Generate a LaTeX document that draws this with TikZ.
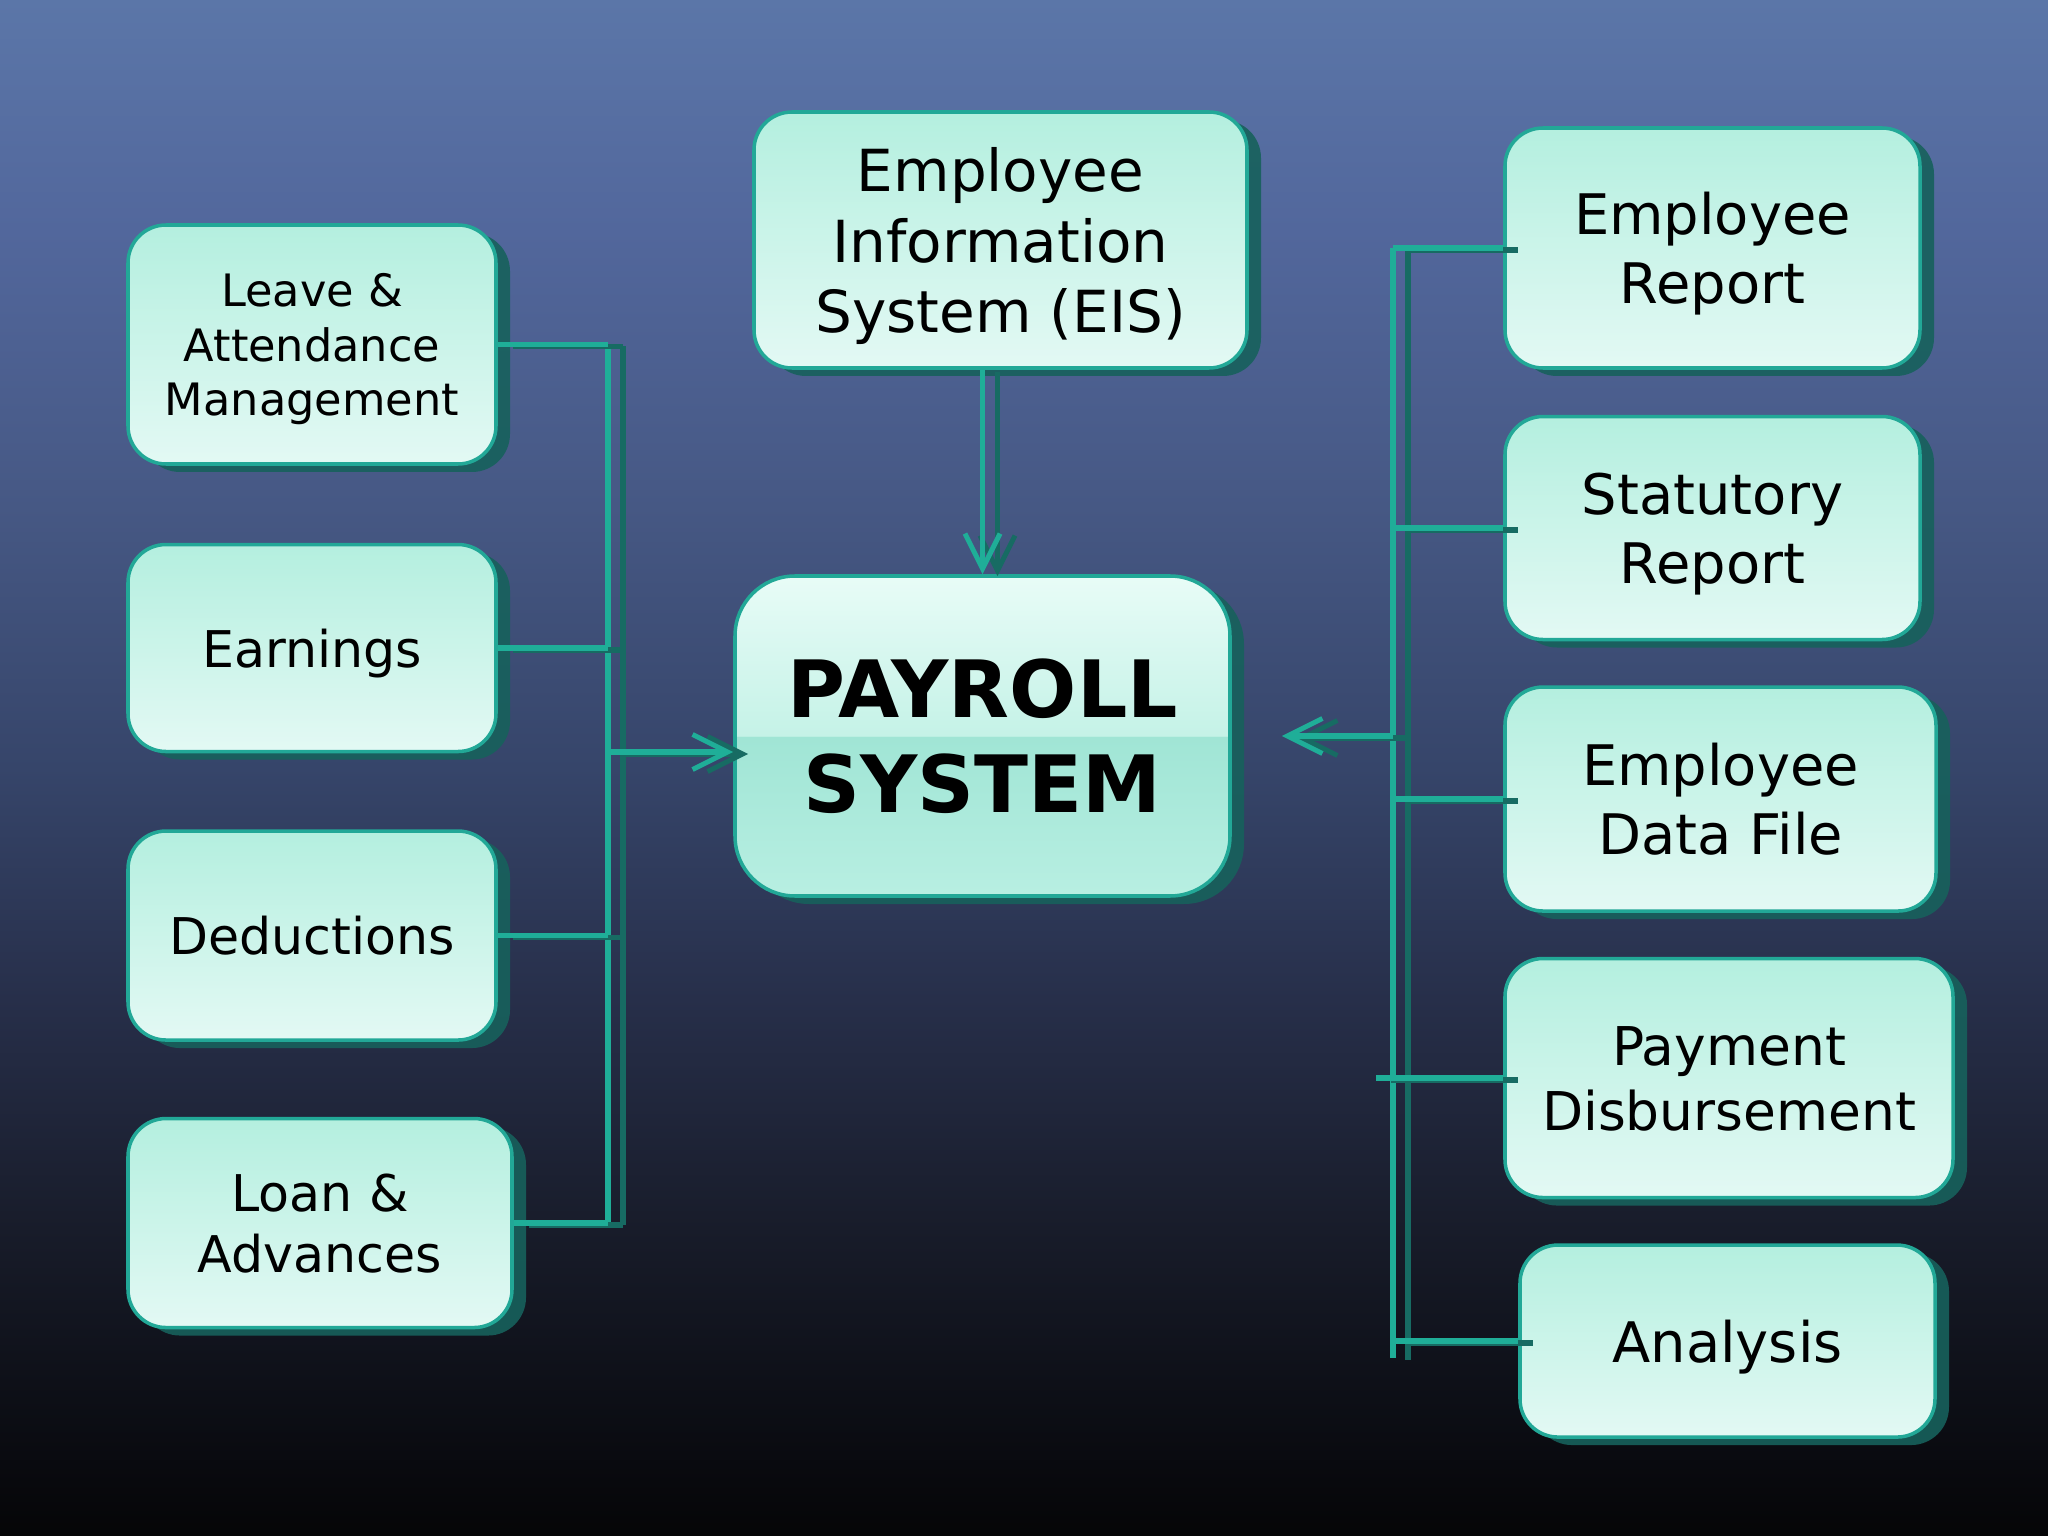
\documentclass[tikz,border=0pt]{standalone}
\usepackage{fontspec}
\setmainfont{DejaVu Sans}
\usetikzlibrary{arrows.meta,positioning,shadows}
\definecolor{BgTop}{HTML}{5B76A8}
\definecolor{BgA}{HTML}{52679C}
\definecolor{BgB}{HTML}{465884}
\definecolor{BgC}{HTML}{36456A}
\definecolor{BgD}{HTML}{272F4A}
\definecolor{BgE}{HTML}{181C2A}
\definecolor{BgF}{HTML}{0E1018}
\definecolor{BgBottom}{HTML}{050507}
\definecolor{BoxEdge}{HTML}{22A897}
\definecolor{BoxTop}{HTML}{B4EFDF}
\definecolor{BoxBottom}{HTML}{E3F9F4}
\definecolor{BoxShadow}{HTML}{17615C}
\definecolor{CoreTop}{HTML}{E8FCF7}
\definecolor{CoreMid}{HTML}{C5F2E7}
\definecolor{CoreLow}{HTML}{A0E5D5}
\definecolor{CoreBottom}{HTML}{B8EFE2}
\definecolor{LinkTeal}{HTML}{1FAE98}
\definecolor{LinkShadow}{HTML}{176B63}
\pgfdeclareverticalshading{bgfade}{100bp}{color(0bp)=(BgBottom); color(25bp)=(BgBottom);
  color(30bp)=(BgF); color(35bp)=(BgE); color(42.5bp)=(BgD); color(50bp)=(BgC);
  color(58.5bp)=(BgB); color(67.5bp)=(BgA); color(75bp)=(BgTop); color(100bp)=(BgTop)}
\pgfdeclareverticalshading{coregloss}{100bp}{color(0bp)=(CoreBottom); color(25bp)=(CoreBottom);
  color(49.9bp)=(CoreLow); color(50bp)=(CoreMid); color(75bp)=(CoreTop); color(100bp)=(CoreTop)}

\begin{document}
\begin{tikzpicture}[
    box/.style={draw=BoxEdge, line width=1pt, rounded corners=0.38cm, top color=BoxTop,
                bottom color=BoxBottom, align=center, inner sep=0pt, text depth=0pt,
                drop shadow={shadow xshift=0.14cm, shadow yshift=-0.08cm, fill=BoxShadow, opacity=0.9}},
    core/.style={box, shading=coregloss, rounded corners=0.6cm,
                 font=\fontsize{22.5}{27}\selectfont\bfseries},
    smalltxt/.style={font=\fontsize{12.7}{15.6}\selectfont},
    midtxt/.style={font=\fontsize{14.4}{17.3}\selectfont},
    bigtxt/.style={font=\fontsize{15.9}{19.6}\selectfont},
    conn/.style={draw=LinkTeal, line width=1.5pt,
                 preaction={draw=LinkShadow, line width=1.6pt,
                            transform canvas={shift={(0.15cm,-0.02cm)}}}},
    arr/.style={conn, -{Straight Barb[length=10pt, width=10pt, line width=1.4pt]}}
]
    % background
    \useasboundingbox (0,0) rectangle (20.48,-15.36);
    \shade[shading=bgfade] (0,0) rectangle (20.48,-15.36);

    % inputs
    \node[box, smalltxt, minimum width=3.68cm, minimum height=2.39cm] (leave) at (3.12,-3.445)
        {Leave \&\\Attendance\\Management};
    \node[box, midtxt, minimum width=3.68cm, minimum height=2.07cm, below=0.77cm of leave] (earn) {Earnings};
    \node[box, midtxt, minimum width=3.68cm, minimum height=2.09cm, below=0.76cm of earn] (ded) {Deductions};
    \node[box, midtxt, minimum width=3.84cm, minimum height=2.09cm,
          below=0.75cm of ded.south west, anchor=north west] (loan) {Loan \&\\Advances};

    % centre
    \node[box, font=\fontsize{16.5}{20}\selectfont, minimum width=4.93cm, minimum height=2.56cm]
        (eis) at (10.005,-2.40) {Employee\\Information\\System (EIS)};
    \node[core, minimum width=4.95cm, minimum height=3.20cm] (payroll) at (9.825,-7.36) {PAYROLL\\SYSTEM};

    % outputs
    \node[box, bigtxt, minimum width=4.15cm, minimum height=2.40cm] (erep) at (17.125,-2.48) {Employee\\Report};
    \node[box, bigtxt, minimum width=4.15cm, minimum height=2.23cm,
          below=0.45cm of erep.south west, anchor=north west] (srep) {Statutory\\Report};
    \node[box, bigtxt, minimum width=4.31cm, minimum height=2.24cm,
          below=0.44cm of srep.south west, anchor=north west] (edf) {Employee\\Data File};
    \node[box, font=\fontsize{15.2}{18.5}\selectfont, minimum width=4.48cm, minimum height=2.39cm,
          below=0.44cm of edf.south west, anchor=north west] (pay) {Payment\\Disbursement};
    \node[box, bigtxt, minimum width=4.15cm, minimum height=1.92cm,
          below=0.44cm of pay.south west, anchor=north west, xshift=0.15cm] (ana) {Analysis};

    % buses
    \coordinate (lbus) at (6.08,0);
    \coordinate (lin) at (6.08,-7.52);
    \coordinate (rbus) at (13.93,0);
    \coordinate (rstub) at (13.76,0);
    \coordinate (rbot) at (13.93,-13.58);

    \draw[conn] (leave.east -| lbus) -- (loan.east -| lbus);
    \foreach \n in {leave,earn,ded,loan}
        \draw[conn] (\n.east) -- (\n.east -| lbus);
    \draw[arr] (lin) -- (lin -| payroll.west);

    \draw[arr] (eis.south -| payroll.north) -- (payroll.north);

    \draw[conn] (erep.west -| rbus) -- (rbot);
    \foreach \n in {erep,srep,edf,ana}
        \draw[conn] (\n.west -| rbus) -- (\n.west);
    \draw[conn] (pay.west -| rstub) -- (pay.west);
    \draw[arr] (payroll.east -| rbus) -- ([xshift=0.5cm]payroll.east);
\end{tikzpicture}
\end{document}
